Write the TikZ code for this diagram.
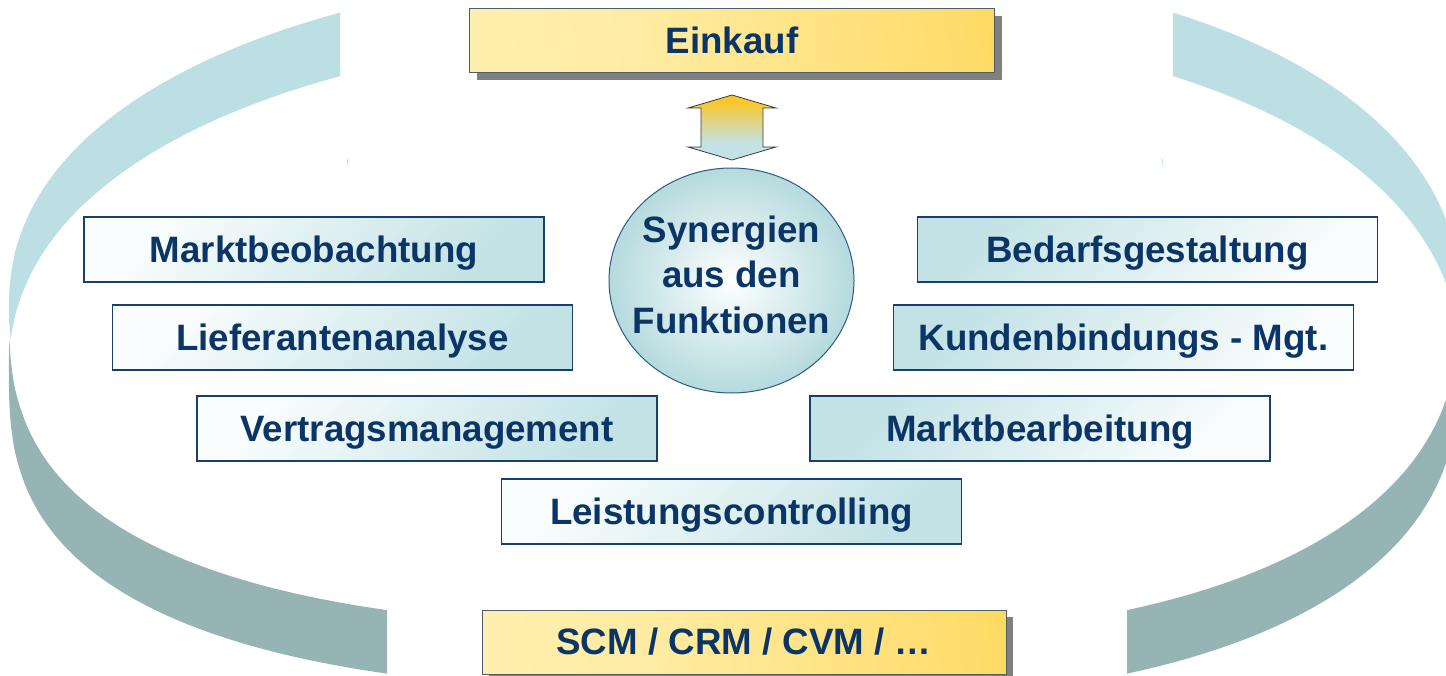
\documentclass[tikz,border=0pt]{standalone}
\usepackage{fontspec}
\setmainfont{Liberation Sans}
\usetikzlibrary{shadows,shapes.geometric}
\definecolor{ringtop}{HTML}{BBDFE2}
\definecolor{ringbot}{HTML}{97B4B5}
\definecolor{tblue}{HTML}{0A3566}
\definecolor{bbord}{HTML}{17406F}
\definecolor{boxwhite}{HTML}{FAFDFD}
\definecolor{boxcyan}{HTML}{C2E2E5}
\definecolor{ylight}{HTML}{FFF3BD}
\definecolor{ymidA}{HTML}{FFECA3}
\definecolor{ymidB}{HTML}{FFDC6A}
\definecolor{ydark}{HTML}{FDC91A}
\definecolor{ybord}{HTML}{4D5E6B}
\definecolor{shadowgray}{HTML}{808080}
\definecolor{gold}{HTML}{F9C62A}
\definecolor{circedge}{HTML}{B5DADD}
\definecolor{circbord}{HTML}{2B5A86}
\definecolor{arrowbord}{HTML}{3A3A3A}
\pgfdeclareverticalshading{arrowshade}{100bp}{color(0bp)=(boxcyan); color(38bp)=(boxcyan); color(70bp)=(gold); color(100bp)=(gold)}
\pgfdeclarehorizontalshading{yshade}{100bp}{color(0bp)=(ylight); color(40bp)=(ymidA); color(75bp)=(ymidB); color(100bp)=(ydark)}
% left / right halves of a superellipse: cx, cy, a, b, exponent
\newcommand\seL[5]{%
  plot[domain=90.25:179.75, samples=180, variable=\t] ({#1-#3*(-cos(\t))^#5}, {#2-#4*(sin(\t))^#5})
  -- plot[domain=180.25:269.75, samples=180, variable=\t] ({#1-#3*(-cos(\t))^#5}, {#2+#4*(-sin(\t))^#5}) -- cycle }
\newcommand\seR[5]{%
  plot[domain=-89.75:-0.25, samples=180, variable=\t] ({#1+#3*(cos(\t))^#5}, {#2+#4*(-sin(\t))^#5})
  -- plot[domain=0.25:89.75, samples=180, variable=\t] ({#1+#3*(cos(\t))^#5}, {#2-#4*(sin(\t))^#5}) -- cycle }
\begin{document}
\begin{tikzpicture}[x=1pt,y=-1pt,
  lbl/.style={font=\fontsize{36.7}{45.5}\selectfont\bfseries, text=tblue},
  boxbase/.style={lbl, draw=bbord, line width=1.2pt, minimum width=460pt, minimum height=65pt, inner sep=0pt, text height=33.2pt, text depth=7.8pt},
  lbox/.style={boxbase, top color=boxwhite, bottom color=boxcyan, shading angle=45},
  rbox/.style={boxbase, top color=boxcyan, bottom color=boxwhite, shading angle=45},
  ybox/.style={lbl, draw=ybord, line width=1pt, minimum width=525pt, minimum height=64pt, inner sep=0pt, text height=33.2pt, text depth=7.8pt, shade, shading=yshade, shading angle=8, drop shadow={shadow xshift=7pt, shadow yshift=-7pt, fill=shadowgray, opacity=1}},
  ringA/.style={fill=ringtop, even odd rule},
  ringB/.style={fill=ringbot, even odd rule},
]
\path[use as bounding box] (0,0) rectangle (1446,676);
\begin{scope}
\clip (0,0) rectangle (1446,676);
% top-left arc
\begin{scope}
\clip (-20,-20) rectangle (340,340);
\fill[ringA] \seL{756.5}{308}{747.5}{342}{0.9091} \seL{756.5}{371.5}{747.5}{342}{0.9091};
\end{scope}
% bottom-left arc
\begin{scope}
\clip (-20,340) rectangle (387,700);
\fill[ringB] \seL{775}{308}{766}{321}{0.7273} \seL{775}{371.5}{766}{321}{0.7273};
\end{scope}
% top-right arc
\begin{scope}
\clip (1173,-20) rectangle (1500,340);
\fill[ringA] \seR{810.4}{308}{650.8}{342}{0.9091} \seR{810.4}{371.5}{650.8}{342}{0.9091};
\end{scope}
% bottom-right arc
\begin{scope}
\clip (1127,340) rectangle (1500,700);
\fill[ringB] \seR{792}{308}{667}{330}{0.8333} \seR{792}{371.5}{667}{330}{0.8333};
\end{scope}
\draw[ringtop, line width=1pt] (347.5,159) -- (348,165);
\draw[ringtop, line width=1pt] (1162,159) -- (1162.5,165);
\end{scope}

\node[ybox] (ein) at (732,41) {Einkauf};
\node[ybox, minimum width=524pt] (scm) at (744,642) {SCM / CRM / CVM / …};

\shadedraw[shading=arrowshade, draw=arrowbord, line width=0.8pt]
  (732,95) -- (776,108) -- (763,108) -- (763,147) -- (776,147) -- (732,160) -- (688,147) -- (701,147) -- (701,108) -- (688,108) -- cycle;

\node[ellipse, draw=circbord, line width=1pt, minimum width=245pt, minimum height=225pt, inner color=white, outer color=circedge] (syn) at (731.5,280.5) {};
\node[lbl, align=center, inner sep=0pt] (syntxt) at (syn.center) [yshift=5.2pt] {\rule{0pt}{33.2pt}Synergien\\aus den\\Funktionen\rule[-7.8pt]{0pt}{7.8pt}};

\node[lbox] (mb) at (314,249.5) {Marktbeobachtung};
\node[lbox] (la) at (342.5,337.5) {Lieferantenanalyse};
\node[lbox] (vm) at (427,428.5) {Vertragsmanagement};
\node[lbox] (lc) at (731.5,511.5) {Leistungscontrolling};
\node[rbox] (bg) at (1147.5,249.5) {Bedarfsgestaltung};
\node[rbox] (kb) at (1123.5,337.5) {Kundenbindungs - Mgt.};
\node[rbox] (mbe) at (1040,428.5) {Marktbearbeitung};
\end{tikzpicture}
\end{document}
